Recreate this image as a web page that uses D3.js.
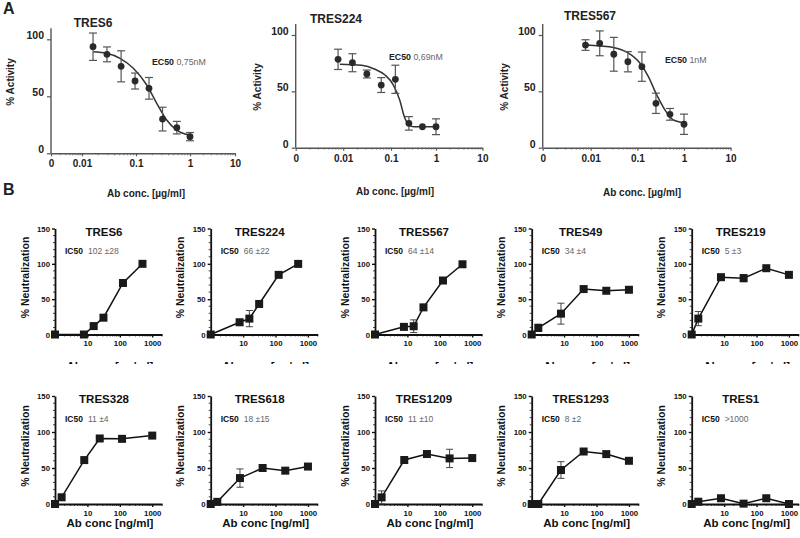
<!DOCTYPE html>
<html><head><meta charset="utf-8">
<script src="https://cdn.jsdelivr.net/npm/d3@7"></script>
<style>body{margin:0;background:#fff}svg{display:block}</style>
</head><body><svg id="c" width="800" height="538"></svg>
<script>
// ---------- Panel A data ----------
const aNames = ["TRES6", "TRES224", "TRES567"];
const aEC50 = ["0,75nM", "0,69nM", "1nM"];
const aXTickVals = [0.001, 0.01, 0.1, 1, 10];
const aXTickLabels = ["0", "0.01", "0.1", "1", "10"];
const aYTicks = [0, 50, 100];
const aConcTRES6 = [0.016, 0.029, 0.053, 0.096, 0.174, 0.31, 0.57, 1.0];
const aConcDil = [0.0078, 0.0156, 0.03125, 0.0625, 0.125, 0.25, 0.5, 1];
const aMeanTRES6 = [93.5, 86.8, 76.3, 63.4, 57, 30, 22.5, 14.6];
const aErrTRES6 = [12, 6.5, 13.6, 7, 9.5, 10.4, 5.5, 3.6];
const aMeanTRES224 = [78.4, 75.4, 65.4, 55.6, 60.7, 21.6, 18.6, 18.6];
const aErrTRES224 = [9, 8, 3.5, 6.6, 12.5, 6, 1, 7];
const aMeanTRES567 = [91.1, 92.6, 82.9, 76.3, 71.9, 39.4, 29.6, 20.8];
const aErrTRES567 = [4.7, 11, 15, 9, 13, 9, 5.2, 9];
// fitted curves
const aCurveXTRES6 = [0.0162, 0.0287, 0.0506, 0.0892, 0.158, 0.242, 0.37, 0.566, 1.0];
const aCurveYTRES6 = [89.1, 87.7, 83.3, 74.6, 59.9, 43.9, 29.2, 20.4, 16];
const aCurveXTRES224 = [0.0085, 0.0243, 0.0462, 0.075, 0.113, 0.156, 0.198, 0.252, 0.321, 0.967];
const aCurveYTRES224 = [74, 73.1, 69.6, 64.5, 55.6, 42.3, 27.5, 20.1, 18.6, 18.6];
const aCurveXTRES567 = [0.0078, 0.0156, 0.0305, 0.0621, 0.114, 0.172, 0.26, 0.392, 0.59, 1];
const aCurveYTRES567 = [91.1, 90.2, 89, 84.3, 74.9, 63, 46.8, 33.4, 24.6, 22.2];

// ---------- Panel B data ----------
const bNames = ["TRES6", "TRES224", "TRES567", "TRES49", "TRES219",
                "TRES328", "TRES618", "TRES1209", "TRES1293", "TRES1"];
const bIC50 = ["102 ±28", "66 ±22", "64 ±14", "34 ±4", "5 ±3",
               "11 ±4", "18 ±15", "11 ±10", "8 ±2", ">1000"];
const bConcLow = [0, 7.8, 15.6, 31.25, 125, 500];   // TRES6, TRES224, TRES567
const bConcHigh = [0, 1.6, 8, 40, 200, 1000];       // others
const bConcTRES328 = [0, 1.6, 8, 24, 117, 1000];    // as plotted
const bYTicks = [0, 50, 100, 150];
const bXTicks = [10, 100, 1000];
const bMeanTRES6 = [0, 0, 11.9, 23.8, 72.9, 100];
const bErrTRES6 = [0, 0, 2, 2, 2, 1];
const bMeanTRES224 = [0, 17.3, 22.5, 43.2, 84.4, 99.9];
const bErrTRES224 = [0, 4, 11.5, 2, 1, 1];
const bMeanTRES567 = [0, 10.8, 11.7, 38.4, 76.4, 99.4];
const bErrTRES567 = [0, 2, 9, 2, 2, 1];
const bMeanTRES49 = [0, 9.4, 29.5, 64.3, 61.9, 63.3];
const bErrTRES49 = [0, 5, 14.8, 2, 2, 2];
const bMeanTRES219 = [0, 22.5, 81.1, 79.7, 93.8, 84.4];
const bErrTRES219 = [0, 10, 2, 5, 3, 2];
const bMeanTRES328 = [0, 9.3, 61, 91, 90.5, 95];
const bErrTRES328 = [0, 4, 2, 2, 2, 2];
const bMeanTRES618 = [0, 3, 36, 50, 46.3, 52];
const bErrTRES618 = [0, 2, 12.7, 3, 4, 3];
const bMeanTRES1209 = [0, 9.2, 61.1, 69.4, 63.3, 63.8];
const bErrTRES1209 = [0, 9, 4, 3, 12.7, 3];
const bMeanTRES1293 = [0, 0, 47.2, 72.9, 69.3, 60];
const bErrTRES1293 = [0, 0, 11.6, 2, 2, 2];
const bMeanTRES1 = [0, 3.2, 8, 0.5, 8, 0];
const bErrTRES1 = [0, 1, 1, 1, 1, 1];

// ---------- drawing ----------
const FONT = '"Liberation Sans", Arial, Helvetica, sans-serif';
const svg = d3.select("#c").style("font-family", FONT);
svg.append("rect").attr("width", 800).attr("height", 538).attr("fill", "#fff");

svg.append("text").attr("x", 3).attr("y", 14).attr("font-size", 16).attr("font-weight", "bold").attr("fill", "#222").text("A");
svg.append("text").attr("x", 3).attr("y", 195).attr("font-size", 16).attr("font-weight", "bold").attr("fill", "#222").text("B");

const aSeries = [
  {conc: aConcTRES6, mean: aMeanTRES6, err: aErrTRES6, cx: aCurveXTRES6, cy: aCurveYTRES6},
  {conc: aConcDil, mean: aMeanTRES224, err: aErrTRES224, cx: aCurveXTRES224, cy: aCurveYTRES224},
  {conc: aConcDil, mean: aMeanTRES567, err: aErrTRES567, cx: aCurveXTRES567, cy: aCurveYTRES567}
];
const aLayout = [
  {xr: [51, 82, 136, 190, 235], y0: 153.3, y100: 39.3, tx: 93, ty: 27, ex: 152, ey: 65, ylx: 10, yly: 82, xlx: 146, xly: 197},
  {xr: [295.7, 343.2, 391, 436, 482.4], y0: 147.7, y100: 35, tx: 336, ty: 23, ex: 389, ey: 60, ylx: 257, yly: 87, xlx: 395, xly: 195},
  {xr: [542.7, 590.7, 637.4, 684, 730.6], y0: 147.7, y100: 35, tx: 590, ty: 20, ex: 665, ey: 63, ylx: 504, yly: 87, xlx: 642, xly: 196}
];
const AC = "#333";
aLayout.forEach((L, i) => {
  const s = aSeries[i];
  const g = svg.append("g");
  const x = d3.scaleLog().domain(aXTickVals).range(L.xr);
  const y = d3.scaleLinear().domain([0, 100]).range([L.y0, L.y100]);
  const yTop = L.y100 - 11;
  // y axis
  const ya = g.append("g").attr("transform", `translate(${L.xr[0]},0)`)
    .call(d3.axisLeft(y).tickValues(aYTicks).tickSize(4).tickSizeOuter(0).tickPadding(3));
  ya.select(".domain").remove();
  ya.append("line").attr("x1", 0).attr("x2", 0).attr("y1", L.y0).attr("y2", yTop).attr("stroke", "#555").attr("stroke-width", 1.4);
  ya.selectAll(".tick line").attr("stroke", "#555").attr("stroke-width", 1.2);
  ya.selectAll(".tick text").attr("font-size", 10.5).attr("font-weight", "bold").attr("fill", "#222").attr("font-family", FONT).attr("dy", "-0.05em");
  // x axis
  const xa = g.append("g").attr("transform", `translate(0,${L.y0})`)
    .call(d3.axisBottom(x).tickValues(aXTickVals).tickFormat((d, k) => aXTickLabels[k]).tickSize(3).tickSizeOuter(0).tickPadding(4));
  xa.select(".domain").attr("stroke", "#555").attr("stroke-width", 1.4);
  xa.selectAll(".tick line").attr("stroke", "#555").attr("stroke-width", 1.2);
  xa.selectAll(".tick text").attr("font-size", 10).attr("font-weight", "bold").attr("fill", "#222").attr("font-family", FONT);
  const minor = [];
  [0.001, 0.01, 0.1, 1].forEach(dec => { for (let m = 2; m <= 9; m++) minor.push(dec * m); });
  xa.selectAll(".minor").data(minor).enter().append("line")
    .attr("x1", d => x(d)).attr("x2", d => x(d)).attr("y1", 0).attr("y2", 2)
    .attr("stroke", "#666").attr("stroke-width", 0.8);
  // curve
  const cpts = s.cx.map((v, k) => [x(v), y(s.cy[k])]);
  g.append("path").attr("d", d3.line().curve(d3.curveMonotoneX)(cpts))
    .attr("fill", "none").attr("stroke", AC).attr("stroke-width", 1.5);
  // error bars
  s.conc.forEach((c, k) => {
    const px = x(c), e = s.err[k], m = s.mean[k];
    if (e > 1.5) {
      g.append("line").attr("x1", px).attr("x2", px).attr("y1", y(m - e)).attr("y2", y(m + e)).attr("stroke", "#555").attr("stroke-width", 1.2);
      [m - e, m + e].forEach(v => g.append("line").attr("x1", px - 4).attr("x2", px + 4).attr("y1", y(v)).attr("y2", y(v)).attr("stroke", "#555").attr("stroke-width", 1.2));
    }
  });
  g.selectAll(".pt").data(s.conc).enter().append("circle")
    .attr("cx", d => x(d)).attr("cy", (d, k) => y(s.mean[k])).attr("r", 3.4).attr("fill", "#2a2a2a");
  // texts
  g.append("text").attr("x", L.tx).attr("y", L.ty).attr("text-anchor", "middle").attr("font-size", 12).attr("font-weight", "bold").attr("fill", "#222").text(aNames[i]);
  const et = g.append("text").attr("x", L.ex).attr("y", L.ey).attr("font-size", 8.8).attr("fill", "#222");
  et.append("tspan").attr("font-weight", "bold").text("EC50 ");
  et.append("tspan").attr("fill", "#666").text(aEC50[i]);
  g.append("text").attr("transform", `translate(${L.ylx},${L.yly}) rotate(-90)`).attr("dy", "0.35em").attr("text-anchor", "middle")
    .attr("font-size", 10).attr("font-weight", "bold").attr("fill", "#222").text("% Activity");
  g.append("text").attr("x", L.xlx).attr("y", L.xly).attr("text-anchor", "middle").attr("font-size", 10).attr("font-weight", "bold").attr("fill", "#222").text("Ab conc. [µg/ml]");
});

// Panel B
const bMeans = [bMeanTRES6, bMeanTRES224, bMeanTRES567, bMeanTRES49, bMeanTRES219, bMeanTRES328, bMeanTRES618, bMeanTRES1209, bMeanTRES1293, bMeanTRES1];
const bErrs = [bErrTRES6, bErrTRES224, bErrTRES567, bErrTRES49, bErrTRES219, bErrTRES328, bErrTRES618, bErrTRES1209, bErrTRES1293, bErrTRES1];
const colX = [55, 210.7, 375, 531.7, 691.7];
const rowY = [{y0: 334.5, y150: 228.5}, {y0: 504, y150: 396}];
const defs = svg.append("defs");
defs.append("clipPath").attr("id", "clipRow1").append("rect").attr("x", 0).attr("y", 340).attr("width", 800).attr("height", 24);
const BW = 107;
bNames.forEach((name, i) => {
  const row = Math.floor(i / 5), col = i % 5;
  const ax = colX[col], R = rowY[row];
  const conc = i < 3 ? bConcLow : (name === "TRES328" ? bConcTRES328 : bConcHigh);
  const mean = bMeans[i], err = bErrs[i];
  const x = d3.scaleLog().domain([1, 2000]).range([ax, ax + BW]);
  const y = d3.scaleLinear().domain([0, 150]).range([R.y0, R.y150]);
  const xp = d => d === 0 ? ax : x(d);
  const g = svg.append("g");
  // y axis
  const ya = g.append("g").attr("transform", `translate(${ax},0)`)
    .call(d3.axisLeft(y).tickValues(bYTicks).tickSize(3).tickSizeOuter(0).tickPadding(2));
  ya.select(".domain").attr("stroke", "#111").attr("stroke-width", 1.8);
  ya.selectAll(".tick line").attr("stroke", "#111").attr("stroke-width", 1.4);
  ya.selectAll(".tick text").attr("font-size", 7.8).attr("font-weight", "bold").attr("fill", "#111").attr("font-family", FONT);
  ya.selectAll(".yminor").data(d3.range(10, 150, 10).filter(v => v % 50 !== 0)).enter().append("line")
    .attr("x1", -2).attr("x2", 0).attr("y1", d => y(d)).attr("y2", d => y(d)).attr("stroke", "#111").attr("stroke-width", 0.8);
  // x axis
  const xa = g.append("g").attr("transform", `translate(0,${R.y0})`)
    .call(d3.axisBottom(x).tickValues(bXTicks).tickFormat(d3.format("d")).tickSize(3).tickSizeOuter(0).tickPadding(3));
  xa.select(".domain").attr("stroke", "#111").attr("stroke-width", 1.8);
  xa.selectAll(".tick line").attr("stroke", "#111").attr("stroke-width", 1.4);
  xa.selectAll(".tick text").attr("font-size", 7.8).attr("font-weight", "bold").attr("fill", "#111").attr("font-family", FONT);
  const minor = [];
  [1, 10, 100, 1000].forEach(dec => { for (let m = 2; m <= 9; m++) if (dec * m <= 2000) minor.push(dec * m); });
  xa.selectAll(".xminor").data(minor).enter().append("line")
    .attr("x1", d => x(d)).attr("x2", d => x(d)).attr("y1", 0).attr("y2", 2).attr("stroke", "#111").attr("stroke-width", 0.8);
  // line
  const pts = conc.map((c, k) => [xp(c), y(mean[k])]);
  g.append("path").attr("d", d3.line()(pts)).attr("fill", "none").attr("stroke", "#111").attr("stroke-width", 1.5);
  // error bars
  conc.forEach((c, k) => {
    const e = err[k];
    if (e > 3) {
      const px = xp(c), m = mean[k];
      g.append("line").attr("x1", px).attr("x2", px).attr("y1", y(Math.max(0, m - e))).attr("y2", y(m + e)).attr("stroke", "#444").attr("stroke-width", 1);
      [m - e, m + e].forEach(v => { if (v > 0) g.append("line").attr("x1", px - 3.5).attr("x2", px + 3.5).attr("y1", y(v)).attr("y2", y(v)).attr("stroke", "#444").attr("stroke-width", 1); });
    }
  });
  g.selectAll(".sq").data(conc).enter().append("rect")
    .attr("x", d => xp(d) - 4).attr("y", (d, k) => y(mean[k]) - 4).attr("width", 8).attr("height", 8).attr("fill", "#1a1a1a");
  // texts
  g.append("text").attr("x", ax + 49).attr("y", R.y150 + 7).attr("text-anchor", "middle").attr("font-size", 11.5).attr("font-weight", "bold").attr("fill", "#111").text(name);
  const it = g.append("text").attr("x", ax + 10).attr("y", R.y150 + 25.5).attr("font-size", 8.5).attr("fill", "#111");
  it.append("tspan").attr("font-weight", "bold").text("IC50");
  it.append("tspan").attr("dx", 5).attr("fill", "#666").text(bIC50[i]);
  g.append("text").attr("transform", `translate(${ax - 30},${(R.y0 + R.y150) / 2 - 4}) rotate(-90)`).attr("dy", "0.35em").attr("text-anchor", "middle")
    .attr("font-size", 10.5).attr("font-weight", "bold").attr("fill", "#111").text("% Neutralization");
  const xl = g.append("text").attr("x", ax + 55).attr("y", R.y0 + 23).attr("text-anchor", "middle").attr("font-size", 11.5).attr("font-weight", "bold").attr("fill", "#111").text("Ab conc [ng/ml]");
  if (row === 0) xl.attr("y", R.y0 + 35).attr("clip-path", "url(#clipRow1)");
});
</script></body></html>
